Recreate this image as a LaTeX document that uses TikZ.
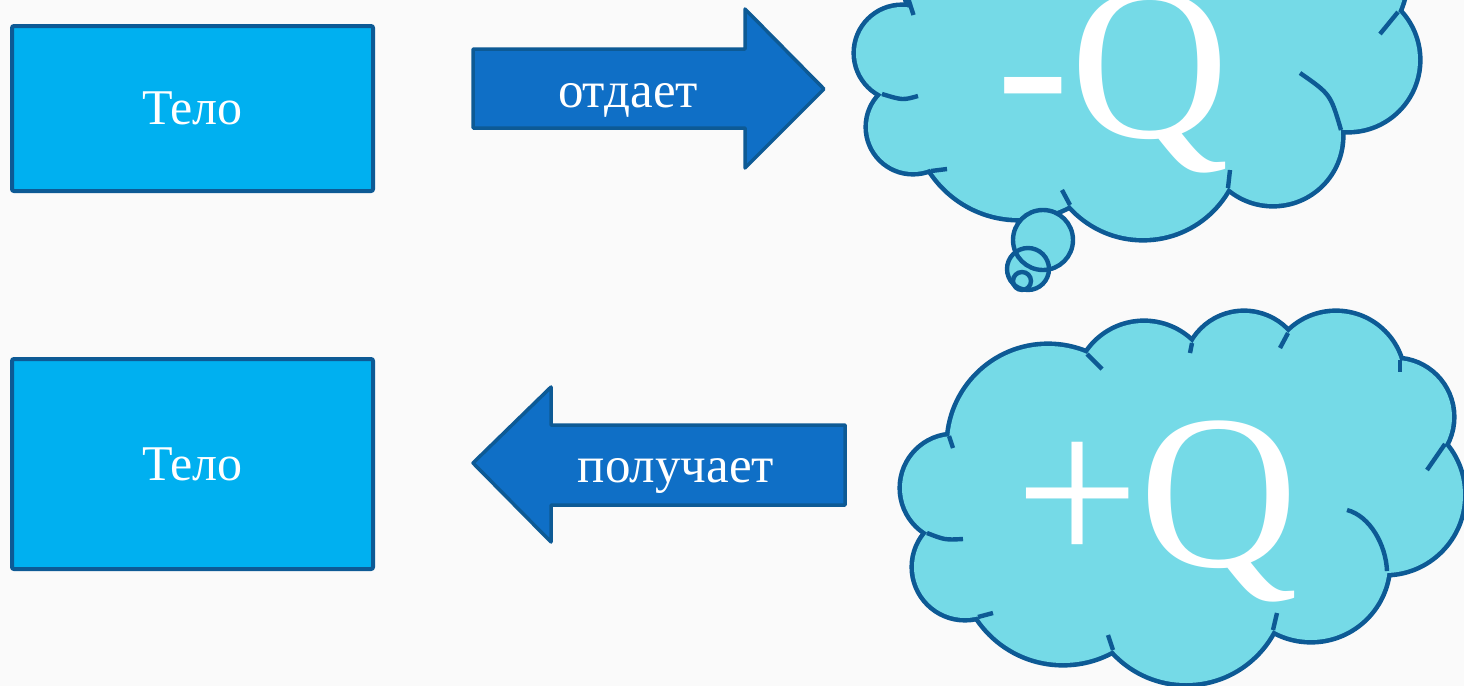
\documentclass[tikz,border=0pt]{standalone}
\usepackage{fontspec}
\setmainfont{Liberation Serif}
\definecolor{bgc}{HTML}{FAFAFA}
\definecolor{bodyfill}{HTML}{00B0F0}
\definecolor{edgec}{HTML}{0D5A95}
\definecolor{arrowfill}{HTML}{0F6FC6}
\definecolor{cloudfill}{HTML}{75DAE7}
\tikzset{
  bodybox/.style={draw=edgec, fill=bodyfill, line width=2pt, rounded corners=1pt,
    minimum width=180.5pt, inner sep=0pt, text=white, font=\fontsize{25}{30}\selectfont},
  blockarrow/.style={draw=edgec, fill=arrowfill, line width=1.75pt, line join=round},
  arrowlbl/.style={text=white, font=\fontsize{25.5}{30}\selectfont, anchor=base, inner sep=0pt},
  bigq/.style={text=white, font=\fontsize{110}{110}\selectfont, anchor=base, inner sep=0pt},
  lobeedge/.style={draw=edgec, line width=4.6pt},
  lobefill/.style={fill=cloudfill},
  innerarc/.style={draw=edgec, line width=2.2pt},
  bubblefill/.style={fill=cloudfill},
  bubbleedge/.style={draw=edgec, line width=2.2pt}
}
\begin{document}
\begin{tikzpicture}[x=0.5pt, y=-0.5pt]
\fill[bgc] (0,0) rectangle (1464,686);
\useasboundingbox (0,0) rectangle (1464,686);

% bodies
\node[bodybox, minimum height=82.5pt] (body1) at (192.5,108.5) {Тело};
\node[bodybox, minimum height=105pt] (body2) at (192.5,464) {Тело};

% block arrows
\draw[blockarrow] (473,49) -- (745,49) -- (745,9) -- (824,89) -- (745,168) -- (745,128) -- (473,128) -- cycle;
\node[arrowlbl] (give) at (628,107) {отдает};
\draw[blockarrow] (473,463) -- (551,387) -- (551,425) -- (845,425) -- (845,505) -- (551,505) -- (551,542) -- cycle;
\node[arrowlbl] (get) at (676,482) {получает};

\begin{scope}
\clip (0,0) rectangle (1464,686);
% ---- top cloud (-Q)
\foreach \cx/\cy/\r in {980/-20/75, 902/53/46, 913/127/45, 1019/113/105, 1143/141/97, 1273/136/68, 1348/60/70, 1330/-20/75}
  \draw[lobeedge] (\cx,\cy) circle[radius=\r];
\foreach \cx/\cy/\r in {980/-20/75, 902/53/46, 913/127/45, 1019/113/105, 1143/141/97, 1273/136/68, 1348/60/70, 1330/-20/75}
  \fill[lobefill] (\cx,\cy) circle[radius=\r];
\fill[lobefill] (980,-20) -- (902,53) -- (913,127) -- (1019,113) -- (1143,141) -- (1273,136) -- (1348,60) -- (1330,-20) -- cycle;
\draw[innerarc] (908,-2) -- (913.5,15);
\draw[innerarc] (882,94) .. controls (902.7,100.3) .. (918,96);
\draw[innerarc] (931,171) -- (947,169);
\draw[innerarc] (1070,205) -- (1062,190);
\draw[innerarc] (1228,188) -- (1230,170);
\draw[innerarc] (1341,130) .. controls (1330.5,94.2) .. (1300,73);
\draw[innerarc] (1398,12) -- (1380,34);
% thought bubbles
\fill[bubblefill] (1043,240) circle[radius=30];
\fill[bubblefill] (1028,269) circle[radius=21];
\fill[bubblefill] (1022,281) circle[radius=9];
\draw[bubbleedge] (1043,240) circle[radius=30];
\draw[bubbleedge] (1028,269) circle[radius=21];
\draw[bubbleedge] (1022,281) circle[radius=9];

% ---- bottom cloud (+Q)
\foreach \cx/\cy/\r in {1048/445/99, 1144/391/68, 1244/372/59, 1336/380/67, 1395/417/57, 1385/495/78, 1311/563/77, 1186/585/98, 1063/561/102, 965/567/51, 954/488/52}
  \draw[lobeedge] (\cx,\cy) circle[radius=\r];
\foreach \cx/\cy/\r in {1048/445/99, 1144/391/68, 1244/372/59, 1336/380/67, 1395/417/57, 1385/495/78, 1311/563/77, 1186/585/98, 1063/561/102, 965/567/51, 954/488/52}
  \fill[lobefill] (\cx,\cy) circle[radius=\r];
\fill[lobefill] (1048,445) -- (1144,391) -- (1244,372) -- (1336,380) -- (1395,417) -- (1385,495) -- (1311,563) -- (1186,585) -- (1063,561) -- (965,567) -- (954,488) -- cycle;
\draw[innerarc] (949,436) -- (953,448);
\draw[innerarc] (1087,354) -- (1102,369);
\draw[innerarc] (1192,343) -- (1190,353);
\draw[innerarc] (1288,333) -- (1280,348);
\draw[innerarc] (1400,360) -- (1400,372);
\draw[innerarc] (1445,444) -- (1427,470);
\draw[innerarc] (1387,571) .. controls (1386,545) and (1370,516) .. (1347,510);
\draw[innerarc] (1273,630) -- (1277,613);
\draw[innerarc] (1113,650) -- (1108,635);
\draw[innerarc] (978,617) -- (993,613);
\draw[innerarc] (927,533) .. controls (945,540) .. (963,539);
\end{scope}

\node[bigq] (minusq) at (1113,137) {-Q};
\node[bigq] (plusq) at (1157,566) {+Q};
\end{tikzpicture}
\end{document}
